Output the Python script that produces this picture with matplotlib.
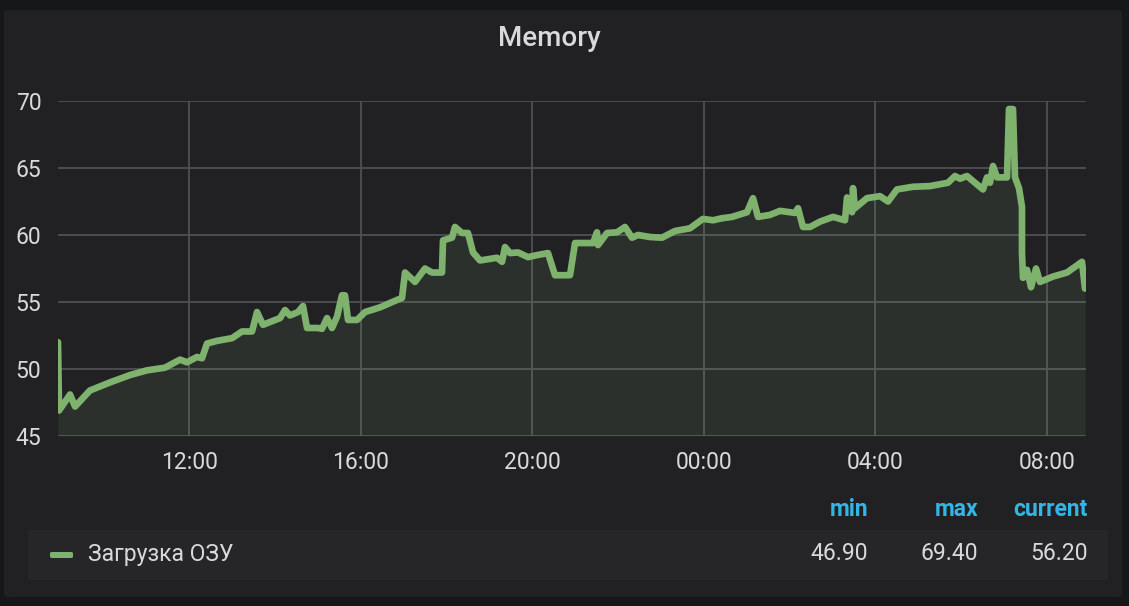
import matplotlib
matplotlib.use("Agg")
import matplotlib.pyplot as plt
from matplotlib.patches import FancyBboxPatch, Rectangle
from matplotlib.ticker import FixedLocator, FixedFormatter

# ---- data (hours since day-1 00:00, memory %) ----
hours = [8.946, 8.97, 9.226, 9.343, 9.692, 10.159, 10.625, 11.021, 11.441, 11.79,
         11.953, 12.186, 12.303, 12.42, 12.653, 13.002, 13.235, 13.469, 13.585, 13.725,
         14.121, 14.238, 14.354, 14.541, 14.657, 14.751, 15.007, 15.1, 15.217, 15.333,
         15.45, 15.566, 15.636, 15.706, 15.916, 16.103, 16.452, 16.848, 16.965, 17.035,
         17.268, 17.501, 17.664, 17.897, 17.921, 18.131, 18.2, 18.364, 18.503, 18.62,
         18.783, 19.179, 19.296, 19.366, 19.483, 19.669, 19.902, 20.112, 20.368, 20.531,
         20.881, 20.998, 21.417, 21.51, 21.534, 21.744, 21.977, 22.163, 22.326, 22.466,
         22.746, 23.026, 23.329, 23.678, 23.978, 24.214, 24.424, 24.657, 25.007, 25.147,
         25.263, 25.543, 25.776, 26.126, 26.196, 26.312, 26.476, 26.709, 27.012, 27.291,
         27.338, 27.455, 27.478, 27.524, 27.804, 28.107, 28.294, 28.503, 28.876, 29.273,
         29.692, 29.855, 29.972, 30.135, 30.508, 30.601, 30.671, 30.741, 30.834, 31.068,
         31.114, 31.207, 31.254, 31.347, 31.417, 31.417, 31.44, 31.534, 31.627, 31.744,
         31.837, 32.14, 32.466, 32.816, 32.886]
memory = [52.0, 46.9, 48.1, 47.2, 48.4, 49.0, 49.55, 49.9, 50.1, 50.7,
          50.5, 50.9, 50.8, 51.9, 52.1, 52.3, 52.8, 52.8, 54.25, 53.3,
          53.8, 54.4, 54.0, 54.25, 54.7, 53.06, 53.06, 53.0, 53.8, 53.06,
          53.9, 55.5, 55.5, 53.66, 53.66, 54.25, 54.6, 55.15, 55.3, 57.2,
          56.5, 57.5, 57.2, 57.2, 59.6, 59.8, 60.6, 60.15, 60.15, 58.7,
          58.1, 58.3, 58.0, 59.1, 58.65, 58.7, 58.35, 58.5, 58.65, 57.0,
          57.0, 59.4, 59.4, 60.2, 59.25, 60.15, 60.2, 60.6, 59.8, 60.0,
          59.85, 59.8, 60.3, 60.5, 61.2, 61.1, 61.25, 61.35, 61.7, 62.75,
          61.35, 61.5, 61.8, 61.65, 62.0, 60.6, 60.6, 61.0, 61.35, 61.1,
          62.8, 61.7, 63.5, 62.0, 62.75, 62.9, 62.5, 63.4, 63.6, 63.65,
          63.9, 64.4, 64.2, 64.4, 63.4, 64.3, 63.9, 65.15, 64.3, 64.3,
          69.4, 69.4, 64.3, 63.5, 62.1, 58.65, 56.8, 57.4, 56.1, 57.5,
          56.5, 56.9, 57.2, 58.0, 56.0]

series_name = "Загрузка ОЗУ"
stat_headers = ["min", "max", "current"]
stat_values = ["46.90", "69.40", "56.20"]
x_ticks = [12, 16, 20, 24, 28, 32]
x_tick_labels = ["12:00", "16:00", "20:00", "00:00", "04:00", "08:00"]
y_ticks = [45, 50, 55, 60, 65, 70]
title = "Memory"

# ---- styling ----
W, H = 1129, 606
OUTER = "#161719"
PANEL = "#212124"
LEGROW = "#262628"
TEXT = "#d8d9da"
BLUE = "#33b5e5"
GREEN = "#7eb26d"
GRID = "#505053"
FONT = "Roboto"

fig = plt.figure(figsize=(W / 100, H / 100), dpi=100)
fig.patch.set_facecolor(OUTER)

def fx(px):
    return px / W

def fy(py):
    return 1 - py / H

# panel background
fig.patches.append(FancyBboxPatch((fx(4), fy(597)), fx(1122) - fx(4), fy(10) - fy(597),
                                  boxstyle="round,pad=0,rounding_size=0.004",
                                  transform=fig.transFigure, facecolor=PANEL,
                                  edgecolor="none", zorder=-3))
# legend row background
fig.patches.append(Rectangle((fx(28), fy(580)), fx(1108) - fx(28), fy(530) - fy(580),
                             transform=fig.transFigure, facecolor=LEGROW,
                             edgecolor="none", zorder=-2))

ax = fig.add_axes([fx(58), fy(436), fx(1086) - fx(58), fy(101) - fy(436)])
ax.set_zorder(2)
ax.set_facecolor("none")
ax.set_xlim(8.946, 32.909)
ax.set_ylim(45, 70)

ax.fill_between(hours, memory, 45, color=GREEN, alpha=0.11, linewidth=0, zorder=1)
ax.plot(hours, memory, color=GREEN, linewidth=4.8, solid_joinstyle="round",
        solid_capstyle="round", zorder=3)

ax.xaxis.set_major_locator(FixedLocator(x_ticks))
ax.xaxis.set_major_formatter(FixedFormatter(x_tick_labels))
ax.set_yticks(y_ticks)
ax.grid(True, color=GRID, linewidth=1.3, zorder=0)
ax.set_axisbelow(True)
for s in ax.spines.values():
    s.set_visible(False)
ax.tick_params(axis="both", length=0, colors=TEXT, labelsize=16.5)
ax.tick_params(axis="x", pad=11)
ax.tick_params(axis="y", pad=12)
for lab in ax.get_xticklabels() + ax.get_yticklabels():
    lab.set_fontfamily(FONT)

fig.text(fx(549), fy(38), title, ha="center", va="center", color=TEXT,
         fontsize=20, fontweight="medium", family=FONT)

# legend
fig.patches.append(FancyBboxPatch((fx(50), fy(558)), fx(73) - fx(50), fy(552) - fy(558),
                                  boxstyle="round,pad=0,rounding_size=0.002",
                                  transform=fig.transFigure, facecolor=GREEN,
                                  edgecolor="none", zorder=2))
fig.text(fx(88), fy(554), series_name, ha="left", va="center", color=TEXT,
         fontsize=16.5, family=FONT)
col_right = [868, 978, 1088]
for xr, hd, val in zip(col_right, stat_headers, stat_values):
    fig.text(fx(xr), fy(509), hd, ha="right", va="center", color=BLUE,
             fontsize=16.5, fontweight="bold", family=FONT)
    fig.text(fx(xr), fy(554), val, ha="right", va="center", color=TEXT,
             fontsize=16.5, family=FONT)

fig.savefig("out.png", dpi=100, facecolor=OUTER)
